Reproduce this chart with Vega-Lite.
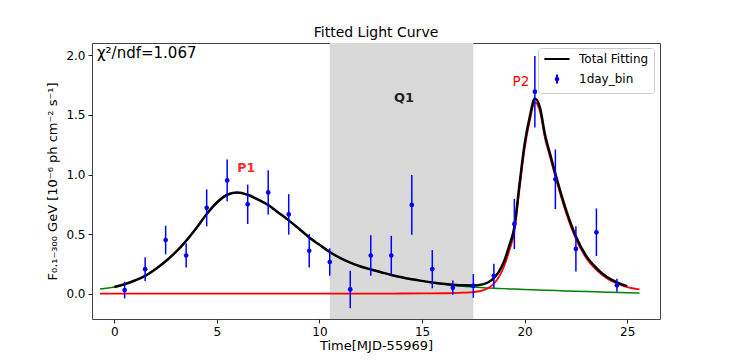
{
  "$schema": "https://vega.github.io/schema/vega-lite/v6.json",
  "width": 568,
  "height": 276,
  "autosize": "none",
  "padding": {"left": 92, "top": 43, "right": 74, "bottom": 41},
  "background": "white",
  "title": {"text": "Fitted Light Curve", "fontSize": 14, "fontWeight": "normal", "font": "DejaVu Sans", "color": "black", "offset": 3},
  "config": {
    "font": "DejaVu Sans",
    "view": {"stroke": "#444", "strokeWidth": 1},
    "axis": {"grid": false, "domain": false, "tickColor": "#222", "tickSize": 4, "labelColor": "black", "labelFontSize": 12, "titleColor": "black", "titleFontWeight": "normal", "labelFont": "DejaVu Sans", "titleFont": "DejaVu Sans"}
  },
  "datasets": {
    "shade": [{"start": 10.5, "end": 17.5}],
    "green": [
      {"t": -0.7, "f": 0.038}, {"t": 0, "f": 0.056}, {"t": 0.5, "f": 0.079}, {"t": 1, "f": 0.11}, {"t": 1.5, "f": 0.149}, {"t": 2, "f": 0.205}, {"t": 2.5, "f": 0.272}, {"t": 3, "f": 0.35}, {"t": 3.5, "f": 0.443}, {"t": 4, "f": 0.55}, {"t": 4.5, "f": 0.668}, {"t": 5, "f": 0.765}, {"t": 5.5, "f": 0.83}, {"t": 6, "f": 0.85}, {"t": 6.5, "f": 0.83}, {"t": 7, "f": 0.79}, {"t": 7.5, "f": 0.744}, {"t": 8, "f": 0.68}, {"t": 8.5, "f": 0.615}, {"t": 9, "f": 0.545}, {"t": 9.5, "f": 0.472}, {"t": 10, "f": 0.41}, {"t": 10.5, "f": 0.35}, {"t": 11, "f": 0.3}, {"t": 11.5, "f": 0.26}, {"t": 12, "f": 0.228}, {"t": 12.5, "f": 0.203}, {"t": 13, "f": 0.18}, {"t": 13.5, "f": 0.157}, {"t": 14, "f": 0.137}, {"t": 14.5, "f": 0.12}, {"t": 15, "f": 0.105}, {"t": 15.5, "f": 0.092}, {"t": 16, "f": 0.08}, {"t": 16.5, "f": 0.07}, {"t": 17, "f": 0.062}, {"t": 17.5, "f": 0.056}, {"t": 18, "f": 0.05}, {"t": 18.5, "f": 0.046}, {"t": 19, "f": 0.042}, {"t": 19.5, "f": 0.038}, {"t": 20, "f": 0.035}, {"t": 21, "f": 0.029}, {"t": 22, "f": 0.023}, {"t": 23, "f": 0.017}, {"t": 24, "f": 0.012}, {"t": 25, "f": 0.008}, {"t": 25.6, "f": 0.006}
    ],
    "red": [
      {"t": -0.7, "f": 0}, {"t": 5, "f": 0}, {"t": 10, "f": 0}, {"t": 14, "f": 0.001}, {"t": 15, "f": 0.002}, {"t": 16, "f": 0.003}, {"t": 16.5, "f": 0.005}, {"t": 17, "f": 0.008}, {"t": 17.5, "f": 0.013}, {"t": 18, "f": 0.03}, {"t": 18.25, "f": 0.05}, {"t": 18.5, "f": 0.085}, {"t": 18.75, "f": 0.14}, {"t": 19, "f": 0.23}, {"t": 19.25, "f": 0.36}, {"t": 19.5, "f": 0.52}, {"t": 19.75, "f": 0.88}, {"t": 20, "f": 1.22}, {"t": 20.25, "f": 1.45}, {"t": 20.5, "f": 1.605}, {"t": 20.75, "f": 1.53}, {"t": 21, "f": 1.3}, {"t": 21.25, "f": 1.14}, {"t": 21.5, "f": 0.98}, {"t": 21.75, "f": 0.83}, {"t": 22, "f": 0.69}, {"t": 22.5, "f": 0.46}, {"t": 23, "f": 0.3}, {"t": 23.5, "f": 0.2}, {"t": 24, "f": 0.13}, {"t": 24.5, "f": 0.085}, {"t": 25, "f": 0.055}, {"t": 25.6, "f": 0.036}
    ],
    "total": [
      {"t": 0, "f": 0.056}, {"t": 0.5, "f": 0.079}, {"t": 1, "f": 0.11}, {"t": 1.5, "f": 0.149}, {"t": 2, "f": 0.205}, {"t": 2.5, "f": 0.272}, {"t": 3, "f": 0.35}, {"t": 3.5, "f": 0.443}, {"t": 4, "f": 0.55}, {"t": 4.5, "f": 0.668}, {"t": 5, "f": 0.765}, {"t": 5.5, "f": 0.83}, {"t": 6, "f": 0.85}, {"t": 6.5, "f": 0.83}, {"t": 7, "f": 0.79}, {"t": 7.5, "f": 0.744}, {"t": 8, "f": 0.68}, {"t": 8.5, "f": 0.615}, {"t": 9, "f": 0.545}, {"t": 9.5, "f": 0.472}, {"t": 10, "f": 0.41}, {"t": 10.5, "f": 0.35}, {"t": 11, "f": 0.3}, {"t": 11.5, "f": 0.26}, {"t": 12, "f": 0.228}, {"t": 12.5, "f": 0.203}, {"t": 13, "f": 0.18}, {"t": 13.5, "f": 0.157}, {"t": 14, "f": 0.138}, {"t": 14.5, "f": 0.121}, {"t": 15, "f": 0.107}, {"t": 15.5, "f": 0.094}, {"t": 16, "f": 0.083}, {"t": 16.5, "f": 0.075}, {"t": 17, "f": 0.07}, {"t": 17.5, "f": 0.069}, {"t": 18, "f": 0.08}, {"t": 18.25, "f": 0.098}, {"t": 18.5, "f": 0.131}, {"t": 18.75, "f": 0.184}, {"t": 19, "f": 0.272}, {"t": 19.25, "f": 0.4}, {"t": 19.5, "f": 0.558}, {"t": 19.75, "f": 0.917}, {"t": 20, "f": 1.255}, {"t": 20.25, "f": 1.483}, {"t": 20.5, "f": 1.638}, {"t": 20.75, "f": 1.56}, {"t": 21, "f": 1.329}, {"t": 21.25, "f": 1.167}, {"t": 21.5, "f": 1.006}, {"t": 21.75, "f": 0.854}, {"t": 22, "f": 0.713}, {"t": 22.5, "f": 0.48}, {"t": 23, "f": 0.317}, {"t": 23.5, "f": 0.215}, {"t": 24, "f": 0.142}, {"t": 24.5, "f": 0.095}, {"t": 25, "f": 0.063}
    ],
    "points": [
      {"t": 0.5, "f": 0.03, "lo": -0.04, "hi": 0.1},
      {"t": 1.5, "f": 0.205, "lo": 0.105, "hi": 0.305},
      {"t": 2.5, "f": 0.45, "lo": 0.33, "hi": 0.57},
      {"t": 3.5, "f": 0.32, "lo": 0.22, "hi": 0.42},
      {"t": 4.5, "f": 0.72, "lo": 0.565, "hi": 0.875},
      {"t": 5.5, "f": 0.95, "lo": 0.775, "hi": 1.125},
      {"t": 6.5, "f": 0.75, "lo": 0.585, "hi": 0.915},
      {"t": 7.5, "f": 0.85, "lo": 0.665, "hi": 1.035},
      {"t": 8.5, "f": 0.665, "lo": 0.495, "hi": 0.835},
      {"t": 9.5, "f": 0.36, "lo": 0.22, "hi": 0.5},
      {"t": 10.5, "f": 0.265, "lo": 0.15, "hi": 0.38},
      {"t": 11.5, "f": 0.035, "lo": -0.122, "hi": 0.192},
      {"t": 12.5, "f": 0.32, "lo": 0.15, "hi": 0.49},
      {"t": 13.5, "f": 0.32, "lo": 0.155, "hi": 0.485},
      {"t": 14.5, "f": 0.745, "lo": 0.495, "hi": 0.995},
      {"t": 15.5, "f": 0.205, "lo": 0.045, "hi": 0.365},
      {"t": 16.5, "f": 0.05, "lo": -0.01, "hi": 0.11},
      {"t": 17.5, "f": 0.065, "lo": -0.035, "hi": 0.165},
      {"t": 18.5, "f": 0.15, "lo": 0.05, "hi": 0.25},
      {"t": 19.5, "f": 0.585, "lo": 0.375, "hi": 0.795},
      {"t": 20.5, "f": 1.695, "lo": 1.395, "hi": 1.995},
      {"t": 21.5, "f": 0.96, "lo": 0.71, "hi": 1.21},
      {"t": 22.5, "f": 0.375, "lo": 0.185, "hi": 0.565},
      {"t": 23.5, "f": 0.515, "lo": 0.315, "hi": 0.715},
      {"t": 24.5, "f": 0.07, "lo": 0.015, "hi": 0.125}
    ],
    "p1": [{"t": 6.43, "f": 1.057, "txt": "P1"}],
    "p2": [{"t": 19.82, "f": 1.78, "txt": "P2"}],
    "q1": [{"t": 14.12, "f": 1.64, "txt": "Q1"}],
    "chi": [{"t": -0.85, "f": 2.018, "txt": "χ²/ndf=1.067"}],
    "legend": [{"series": "Total Fitting"}, {"series": "1day_bin"}]
  },
  "layer": [
    {
      "data": {"name": "shade"},
      "mark": {"type": "rect", "color": "#d9d9d9"},
      "encoding": {
        "x": {"field": "start", "type": "quantitative", "scale": {"domain": [-1.09, 26.6], "nice": false, "zero": false}, "axis": {"values": [0, 5, 10, 15, 20, 25], "title": "Time[MJD-55969]", "titleFontSize": 13, "titlePadding": 2, "labelPadding": 3}},
        "x2": {"field": "end"}
      }
    },
    {
      "data": {"name": "green"},
      "mark": {"type": "line", "color": "green", "strokeWidth": 1.5, "interpolate": "monotone"},
      "encoding": {
        "x": {"field": "t", "type": "quantitative"},
        "y": {"field": "f", "type": "quantitative", "scale": {"domain": [-0.213, 2.104], "nice": false, "zero": false}, "axis": {"values": [0, 0.5, 1, 1.5, 2], "format": ".1f", "title": "F₀.₁₋₃₀₀ GeV [10⁻⁶ ph cm⁻² s⁻¹]", "titleFontSize": 13, "titlePadding": 6, "labelPadding": 3}}
      }
    },
    {
      "data": {"name": "red"},
      "mark": {"type": "line", "color": "red", "strokeWidth": 1.8, "interpolate": "monotone"},
      "encoding": {
        "x": {"field": "t", "type": "quantitative"},
        "y": {"field": "f", "type": "quantitative"}
      }
    },
    {
      "data": {"name": "total"},
      "mark": {"type": "line", "color": "black", "strokeWidth": 2.5, "interpolate": "monotone"},
      "encoding": {
        "x": {"field": "t", "type": "quantitative"},
        "y": {"field": "f", "type": "quantitative"}
      }
    },
    {
      "data": {"name": "points"},
      "mark": {"type": "rule", "color": "blue", "strokeWidth": 1.5},
      "encoding": {
        "x": {"field": "t", "type": "quantitative"},
        "y": {"field": "lo", "type": "quantitative"},
        "y2": {"field": "hi"}
      }
    },
    {
      "data": {"name": "points"},
      "mark": {"type": "point", "filled": true, "color": "blue", "size": 22, "opacity": 1},
      "encoding": {
        "x": {"field": "t", "type": "quantitative"},
        "y": {"field": "f", "type": "quantitative"}
      }
    },
    {
      "data": {"name": "p1"},
      "mark": {"type": "text", "fontSize": 12.5, "fontWeight": "bold", "align": "center", "baseline": "middle", "color": "#ff2a2a"},
      "encoding": {
        "x": {"field": "t", "type": "quantitative"},
        "y": {"field": "f", "type": "quantitative"},
        "text": {"field": "txt"}
      }
    },
    {
      "data": {"name": "p2"},
      "mark": {"type": "text", "fontSize": 13.5, "fontWeight": "normal", "align": "center", "baseline": "middle", "color": "red"},
      "encoding": {
        "x": {"field": "t", "type": "quantitative"},
        "y": {"field": "f", "type": "quantitative"},
        "text": {"field": "txt"}
      }
    },
    {
      "data": {"name": "q1"},
      "mark": {"type": "text", "fontSize": 13, "fontWeight": "bold", "align": "center", "baseline": "middle", "color": "#222222"},
      "encoding": {
        "x": {"field": "t", "type": "quantitative"},
        "y": {"field": "f", "type": "quantitative"},
        "text": {"field": "txt"}
      }
    },
    {
      "data": {"name": "chi"},
      "mark": {"type": "text", "fontSize": 15, "align": "left", "baseline": "middle", "color": "black"},
      "encoding": {
        "x": {"field": "t", "type": "quantitative"},
        "y": {"field": "f", "type": "quantitative"},
        "text": {"field": "txt"}
      }
    },
    {
      "data": {"name": "legend"},
      "mark": {"type": "point", "filled": false, "opacity": 0, "strokeWidth": 2},
      "encoding": {
        "color": {"field": "series", "type": "nominal", "scale": {"domain": ["Total Fitting", "1day_bin"], "range": ["black", "blue"]},
          "legend": {"orient": "none", "legendX": 446, "legendY": 5, "title": null, "labelFontSize": 12, "labelFont": "DejaVu Sans", "labelColor": "black", "symbolSize": 81, "symbolStrokeWidth": 2, "symbolOpacity": 1, "symbolOffset": 8, "labelOffset": 16, "padding": 5, "rowPadding": 5, "strokeColor": "#cccccc", "fillColor": "rgba(255,255,255,0.8)", "cornerRadius": 3}},
        "shape": {"field": "series", "type": "nominal", "scale": {"domain": ["Total Fitting", "1day_bin"], "range": ["M-2.8,0L2.8,0", "M0,-1L0,1M-0.3,0A0.3,0.3,0,1,0,0.3,0A0.3,0.3,0,1,0,-0.3,0"]}}
      }
    }
  ]
}
